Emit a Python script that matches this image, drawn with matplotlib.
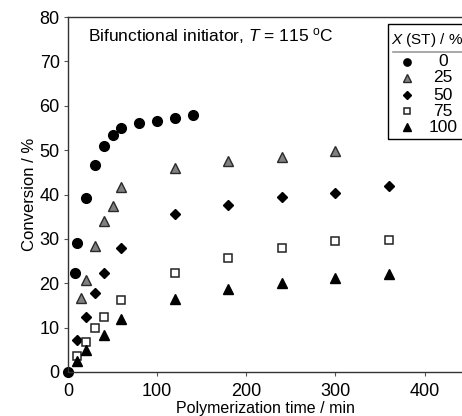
import matplotlib
matplotlib.use('Agg')
import matplotlib.pyplot as plt
from matplotlib.lines import Line2D
from matplotlib.patches import Rectangle

plt.rcParams['font.family'] = ['Liberation Sans', 'DejaVu Sans']
plt.rcParams['mathtext.fontset'] = 'custom'
plt.rcParams['mathtext.rm'] = 'Liberation Sans'
plt.rcParams['mathtext.it'] = 'Liberation Sans:italic'

# conversion data (time in min, conversion in %)
t_st0 = [0, 8, 10, 20, 30, 40, 50, 60, 80, 100, 120, 140]
x_st0 = [0, 22.3, 29.0, 39.2, 46.7, 51.0, 53.4, 55.0, 56.2, 56.6, 57.3, 58.0]

t_st25 = [15, 20, 30, 40, 50, 60, 120, 180, 240, 300]
x_st25 = [16.6, 20.7, 28.4, 34.0, 37.4, 41.7, 46.0, 47.6, 48.4, 49.7]

t_st50 = [10, 20, 30, 40, 60, 120, 180, 240, 300, 360]
x_st50 = [7.1, 12.3, 17.7, 22.2, 27.9, 35.7, 37.6, 39.4, 40.3, 41.9]

t_st75 = [10, 20, 30, 40, 60, 120, 180, 240, 300, 360]
x_st75 = [3.7, 6.8, 9.9, 12.3, 16.3, 22.2, 25.7, 28.0, 29.6, 29.7]

t_st100 = [10, 20, 40, 60, 120, 180, 240, 300, 360]
x_st100 = [2.4, 5.0, 8.3, 12.0, 16.5, 18.6, 20.0, 21.1, 22.1]

legend_labels = ['0', '25', '50', '75', '100']

W, H = 462, 416
fig = plt.figure(figsize=(W / 100, H / 100), dpi=100)
ax = fig.add_axes([68 / W, 44 / H, 394 / W, 355 / H])

styles = [
    dict(marker='o', ms=7.0, mfc='black', mec='black'),
    dict(marker='^', ms=7.0, mfc='#808080', mec='#2a2a2a'),
    dict(marker='D', ms=5.2, mfc='black', mec='black'),
    dict(marker='s', ms=6.2, mfc='white', mec='#222222', mew=1.1),
    dict(marker='^', ms=7.0, mfc='black', mec='black'),
]
series = [(t_st0, x_st0), (t_st25, x_st25), (t_st50, x_st50),
          (t_st75, x_st75), (t_st100, x_st100)]
for (t, x), st in zip(series, styles):
    ax.plot(t, x, linestyle='none', clip_on=False, **st)

ax.set_xlim(0, 442)
ax.set_ylim(0, 80)
ax.set_xticks([0, 100, 200, 300, 400])
ax.set_yticks(range(0, 81, 10))
ax.spines['right'].set_visible(False)
for s in ['left', 'bottom', 'top']:
    ax.spines[s].set_color('#333333')
    ax.spines[s].set_linewidth(1.0)
ax.tick_params(direction='out', length=3, width=0.8, color='#555555',
               labelsize=13, pad=3)
ax.tick_params(axis='x', pad=5)
ax.set_xlabel('Polymerization time / min', fontsize=11.5)
ax.xaxis.set_label_coords(0.5, -0.083)
ax.set_ylabel('Conversion / %', fontsize=12, labelpad=2)

ax.text(88 / W, 1 - 36 / H, r'Bifunctional initiator, $\it{T}$ = 115 $^{\rm o}$C',
        transform=fig.transFigure, fontsize=12.5, va='center', ha='left')

# legend box drawn by hand
fx = lambda px: px / W
fy = lambda py: 1 - py / H
fig.add_artist(Rectangle((fx(388), fy(139)), fx(480) - fx(388), fy(24) - fy(139),
                         transform=fig.transFigure, fill=False,
                         edgecolor='black', linewidth=1.0))
fig.text(fx(391), fy(40), r'$\it{X}$ (ST) / %', fontsize=11, va='center', ha='left')
fig.add_artist(Line2D([fx(393), fx(470)], [fy(52), fy(52)],
                      transform=fig.transFigure, color='#999999', linewidth=1.2))
rows = [62, 78, 95, 111, 127]
for lab, st, yy in zip(legend_labels, styles, rows):
    st2 = dict(st)
    st2['ms'] = st['ms'] * 0.75
    fig.add_artist(Line2D([fx(407)], [fy(yy)], transform=fig.transFigure,
                          linestyle='none', **st2))
    fig.text(fx(443), fy(yy), lab, fontsize=12.5, va='center', ha='center')

fig.savefig('out.png', dpi=100)
